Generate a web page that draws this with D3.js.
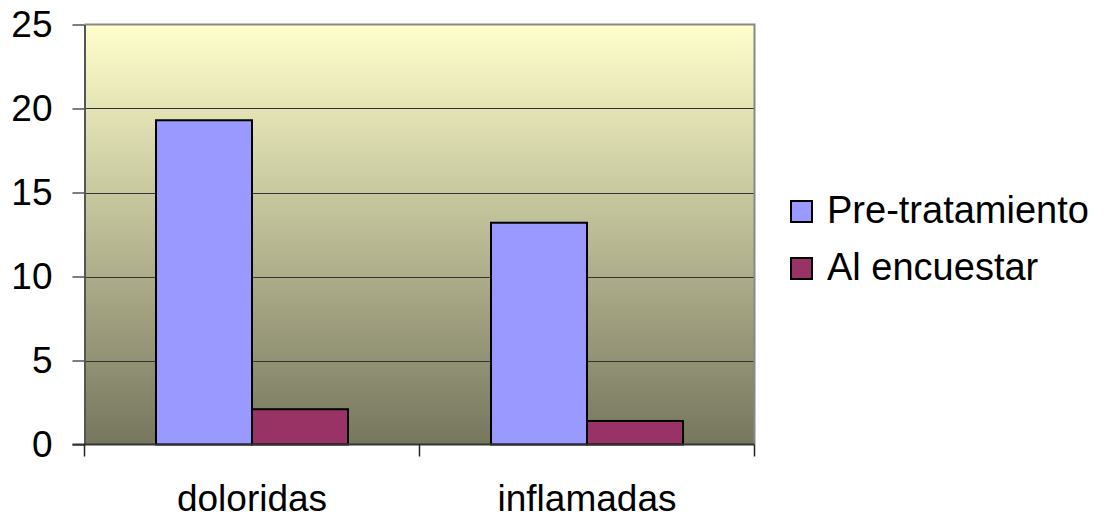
<!DOCTYPE html>
<html>
<head>
<meta charset="utf-8">
<script src="https://cdn.jsdelivr.net/npm/d3@7"></script>
<style>
  html, body { margin: 0; padding: 0; background: #fff; }
  svg { display: block; font-family: "Liberation Sans", Arial, sans-serif; }
</style>
</head>
<body>
<svg id="chart" width="1114" height="519"></svg>
<script>
// Categories, series and tick values
const categories = ["doloridas", "inflamadas"];
const seriesNames = ["Pre-tratamiento", "Al encuestar"];
const preTratamiento = [19.3, 13.2];
const alEncuestar = [2.1, 1.4];
const yTicks = [0, 5, 10, 15, 20, 25];
const seriesColors = ["#9999FF", "#993366"];

const series = [preTratamiento, alEncuestar];

const svg = d3.select("#chart");
const plot = { left: 84.5, right: 754.5, top: 24.5, bottom: 444.5 };

const x = d3.scaleBand()
  .domain(categories)
  .range([plot.left, plot.right])
  .paddingInner(0)
  .paddingOuter(0);

// Bars of one category sit side by side, centred in the category band
const xInner = d3.scaleBand()
  .domain(d3.range(seriesNames.length))
  .range([0, x.bandwidth()])
  .paddingInner(0)
  .paddingOuter(0.745);

const y = d3.scaleLinear().domain([0, 25]).range([plot.bottom, plot.top]);

// Plot background gradient
const defs = svg.append("defs");
const grad = defs.append("linearGradient")
  .attr("id", "bg").attr("x1", 0).attr("y1", 0).attr("x2", 0).attr("y2", 1);
grad.append("stop").attr("offset", "0%").attr("stop-color", "#FFFFCC");
grad.append("stop").attr("offset", "100%").attr("stop-color", "#76765E");

svg.append("rect")
  .attr("x", plot.left).attr("y", plot.top)
  .attr("width", plot.right - plot.left).attr("height", plot.bottom - plot.top)
  .attr("fill", "url(#bg)");

// Horizontal gridlines
svg.append("g")
  .selectAll("line")
  .data(yTicks.filter(d => d > 0 && d < 25))
  .join("line")
  .attr("x1", plot.left).attr("x2", plot.right)
  .attr("y1", d => Math.round(y(d)) + 0.5).attr("y2", d => Math.round(y(d)) + 0.5)
  .attr("stroke", "#333")
  .attr("stroke-width", 1);

// Top and right frame
svg.append("path")
  .attr("d", `M${plot.left},${plot.top}H${plot.right}V${plot.bottom}`)
  .attr("fill", "none")
  .attr("stroke", "#888")
  .attr("stroke-width", 2);

// Bars
const groups = svg.append("g")
  .selectAll("g")
  .data(categories)
  .join("g")
  .attr("transform", d => `translate(${x(d)},0)`);

groups.selectAll("rect")
  .data((d, i) => series.map((s, k) => ({ k, v: s[i] })))
  .join("rect")
  .attr("x", d => xInner(d.k))
  .attr("y", d => y(d.v))
  .attr("width", xInner.bandwidth())
  .attr("height", d => y(0) - y(d.v))
  .attr("fill", d => seriesColors[d.k])
  .attr("stroke", "#000")
  .attr("stroke-width", 2);

// Y axis
const yAxis = svg.append("g")
  .attr("transform", `translate(${plot.left},0)`)
  .call(d3.axisLeft(y).tickValues(yTicks).tickSize(12).tickPadding(20).tickSizeOuter(0));
yAxis.select(".domain").attr("stroke", "#555").attr("stroke-width", 2);
yAxis.selectAll(".tick line").attr("stroke", "#555").attr("stroke-width", 1.5);
yAxis.selectAll(".tick text")
  .attr("font-size", 37)
  .attr("font-family", "Liberation Sans, Arial, sans-serif")
  .attr("fill", "#000");

// X axis (ticks at category boundaries)
const xAxis = svg.append("g")
  .attr("transform", `translate(0,${plot.bottom})`);
xAxis.append("line")
  .attr("x1", plot.left - 12).attr("x2", plot.right)
  .attr("y1", 0).attr("y2", 0)
  .attr("stroke", "#333").attr("stroke-width", 2);
const boundaries = [plot.left, ...categories.map(c => x(c) + x.bandwidth())];
xAxis.selectAll("line.tk")
  .data(boundaries)
  .join("line")
  .attr("class", "tk")
  .attr("x1", d => d).attr("x2", d => d)
  .attr("y1", 0).attr("y2", 12)
  .attr("stroke", "#222").attr("stroke-width", 1.5);
xAxis.selectAll("text")
  .data(categories)
  .join("text")
  .attr("x", d => x(d) + x.bandwidth() / 2)
  .attr("y", 66)
  .attr("text-anchor", "middle")
  .attr("font-size", 37)
  .attr("fill", "#000")
  .text(d => d);

// Legend
const legend = svg.append("g").attr("transform", "translate(791,0)");
const items = legend.selectAll("g")
  .data(seriesNames)
  .join("g")
  .attr("transform", (d, i) => `translate(0,${201 + i * 57})`);
items.append("rect")
  .attr("x", 0).attr("y", 0)
  .attr("width", 21).attr("height", 21)
  .attr("fill", (d, i) => seriesColors[i])
  .attr("stroke", "#000").attr("stroke-width", 2);
items.append("text")
  .attr("x", 36).attr("y", 22)
  .attr("font-size", 38)
  .attr("fill", "#000")
  .text(d => d);
</script>
</body>
</html>
